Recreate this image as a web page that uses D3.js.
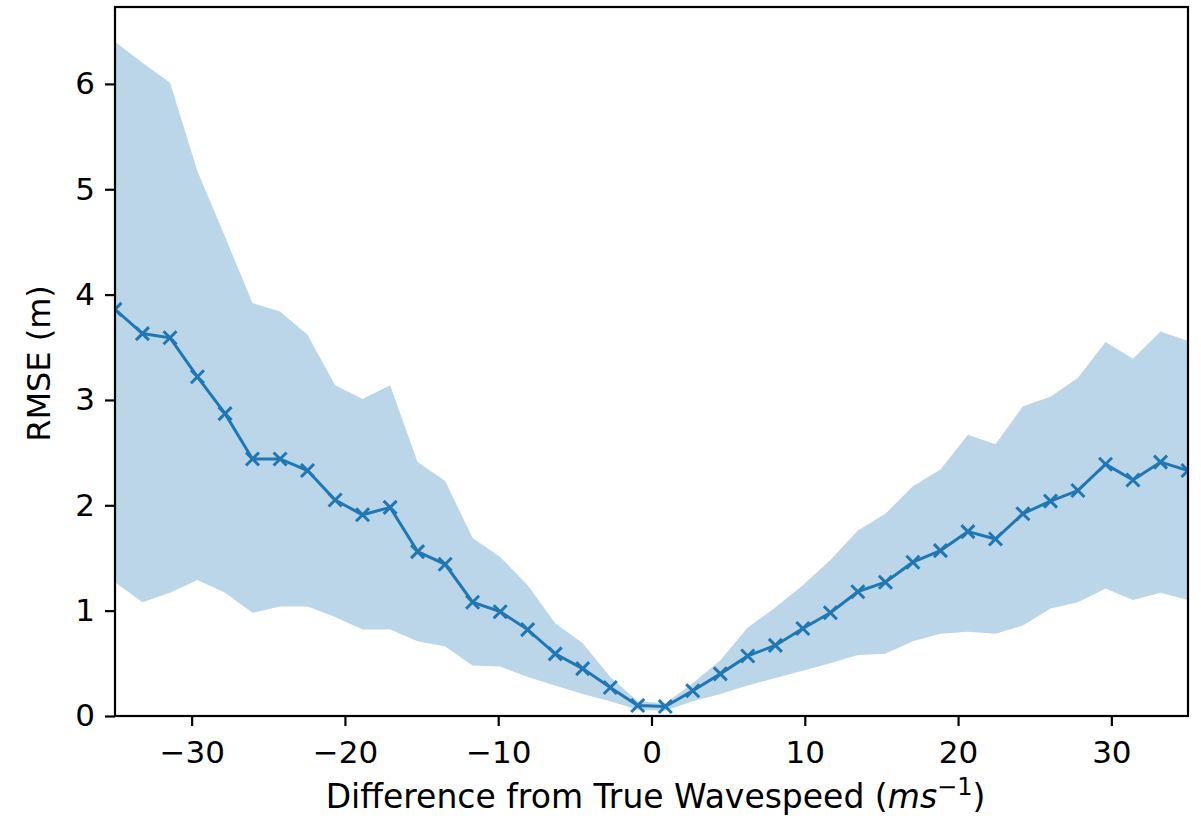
<!DOCTYPE html>
<html>
<head>
<meta charset="utf-8">
<script src="https://cdn.jsdelivr.net/npm/d3@7"></script>
<style>
	body { margin: 0; background: #ffffff; }
	svg { display: block; }
	.axis text { font-family: "DejaVu Sans", sans-serif; font-size: 31px; fill: #000000; }
	.axis path, .axis line { stroke: #000000; stroke-width: 2.2px; }
	.label { font-family: "DejaVu Sans", sans-serif; font-size: 32px; fill: #000000; }
</style>
</head>
<body>
<div id="chart"></div>
<script>
// wavespeed offsets (m/s) that were tested
var offsets = [-35.00, -33.21, -31.41, -29.62, -27.82, -26.03, -24.23, -22.44, -20.64, -18.85,
	-17.05, -15.26, -13.46, -11.67, -9.87, -8.08, -6.28, -4.49, -2.69, -0.90,
	0.90, 2.69, 4.49, 6.28, 8.08, 9.87, 11.67, 13.46, 15.26, 17.05,
	18.85, 20.64, 22.44, 24.23, 26.03, 27.82, 29.62, 31.41, 33.21, 35.00];

// mean RMSE for each offset
var rmseMean = [3.86, 3.63, 3.59, 3.22, 2.87, 2.44, 2.44, 2.33, 2.05, 1.91,
	1.98, 1.56, 1.44, 1.08, 0.99, 0.82, 0.59, 0.45, 0.27, 0.10,
	0.09, 0.24, 0.40, 0.57, 0.67, 0.83, 0.98, 1.18, 1.27, 1.46,
	1.57, 1.75, 1.68, 1.92, 2.04, 2.14, 2.39, 2.24, 2.41, 2.33];

// spread band, upper and lower edge
var rmseUpper = [6.40, 6.20, 6.01, 5.17, 4.55, 3.92, 3.84, 3.62, 3.14, 3.01,
	3.14, 2.41, 2.23, 1.69, 1.51, 1.24, 0.88, 0.69, 0.37, 0.14,
	0.12, 0.31, 0.53, 0.84, 1.03, 1.24, 1.48, 1.76, 1.92, 2.18,
	2.34, 2.67, 2.58, 2.94, 3.03, 3.21, 3.55, 3.39, 3.65, 3.56];

var rmseLower = [1.27, 1.08, 1.17, 1.29, 1.17, 0.98, 1.04, 1.04, 0.94, 0.82,
	0.82, 0.71, 0.66, 0.48, 0.47, 0.37, 0.29, 0.21, 0.14, 0.06,
	0.05, 0.14, 0.21, 0.29, 0.36, 0.43, 0.50, 0.58, 0.59, 0.71,
	0.78, 0.80, 0.78, 0.86, 1.02, 1.08, 1.21, 1.10, 1.17, 1.10];

var xTicks = [-30, -20, -10, 0, 10, 20, 30];
var yTicks = [0, 1, 2, 3, 4, 5, 6];

var width = 1201, height = 819;
var margin = { top: 7, right: 13, bottom: 103, left: 115 };

var svg = d3.select("#chart").append("svg")
	.attr("width", width)
	.attr("height", height);

var x = d3.scaleLinear().domain([-35, 35]).range([margin.left, width - margin.right]);
var y = d3.scaleLinear().domain([0, 6.73]).range([height - margin.bottom, margin.top]);

var rows = offsets.map(function(d, i)
{
	return { x: d, mean: rmseMean[i], hi: rmseUpper[i], lo: rmseLower[i] };
});

svg.append("clipPath").attr("id", "plot-clip")
	.append("rect")
	.attr("x", x.range()[0])
	.attr("y", y.range()[1])
	.attr("width", x.range()[1] - x.range()[0])
	.attr("height", y.range()[0] - y.range()[1]);

var plot = svg.append("g").attr("clip-path", "url(#plot-clip)");

// shaded band
var band = d3.area()
	.x(function(d) { return x(d.x); })
	.y0(function(d) { return y(d.lo); })
	.y1(function(d) { return y(d.hi); });

plot.append("path")
	.datum(rows)
	.attr("d", band)
	.attr("fill", "#1f77b4")
	.attr("fill-opacity", 0.3);

// mean line
var line = d3.line()
	.x(function(d) { return x(d.x); })
	.y(function(d) { return y(d.mean); });

plot.append("path")
	.datum(rows)
	.attr("d", line)
	.attr("fill", "none")
	.attr("stroke", "#1f77b4")
	.attr("stroke-width", 3);

// x markers
var m = 6.5;
plot.selectAll("path.marker")
	.data(rows)
	.enter().append("path")
	.attr("class", "marker")
	.attr("d", function(d)
	{
		var cx = x(d.x), cy = y(d.mean);
		return "M" + (cx - m) + "," + (cy - m) + "L" + (cx + m) + "," + (cy + m)
			+ "M" + (cx - m) + "," + (cy + m) + "L" + (cx + m) + "," + (cy - m);
	})
	.attr("stroke", "#1f77b4")
	.attr("stroke-width", 3)
	.attr("fill", "none");

// axes
var xAxis = svg.append("g")
	.attr("class", "axis")
	.attr("transform", "translate(0," + y.range()[0] + ")")
	.call(d3.axisBottom(x).tickValues(xTicks).tickSizeInner(10).tickSizeOuter(0).tickPadding(15));

var yAxis = svg.append("g")
	.attr("class", "axis")
	.attr("transform", "translate(" + x.range()[0] + ",0)")
	.call(d3.axisLeft(y).tickValues(yTicks).tickFormat(d3.format("d"))
		.tickSizeInner(10).tickSizeOuter(0).tickPadding(10));

xAxis.select(".domain").remove();
yAxis.select(".domain").remove();

// frame
svg.append("rect")
	.attr("x", x.range()[0])
	.attr("y", y.range()[1])
	.attr("width", x.range()[1] - x.range()[0])
	.attr("height", y.range()[0] - y.range()[1])
	.attr("fill", "none")
	.attr("stroke", "#000000")
	.attr("stroke-width", 2.2);

// axis titles
var xTitle = svg.append("text")
	.attr("class", "label")
	.attr("x", (x.range()[0] + x.range()[1]) / 2 + 4)
	.attr("y", 808)
	.attr("text-anchor", "middle")
	.style("font-size", "33px");
xTitle.append("tspan").text("Difference from True Wavespeed (");
xTitle.append("tspan").attr("font-style", "italic").text("ms");
xTitle.append("tspan").attr("font-size", "24px").attr("dy", -13).text("\u22121");
xTitle.append("tspan").attr("dy", 13).text(")");

svg.append("text")
	.attr("class", "label")
	.attr("transform", "translate(50," + ((y.range()[0] + y.range()[1]) / 2 + 2) + ") rotate(-90)")
	.attr("text-anchor", "middle")
	.text("RMSE (m)");
</script>
</body>
</html>
